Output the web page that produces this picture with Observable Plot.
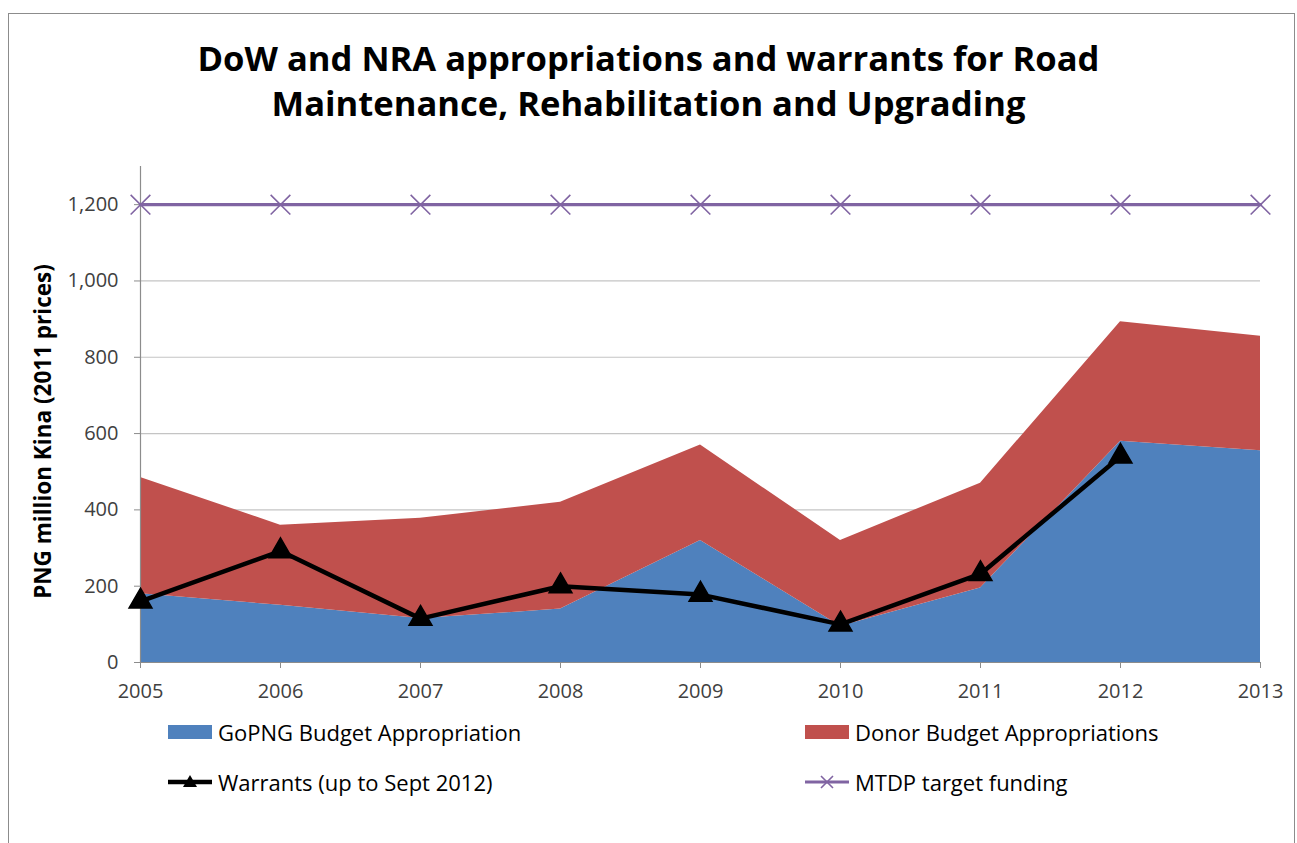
<!DOCTYPE html>
<html>
<head>
<meta charset="utf-8">
<script src="https://cdn.jsdelivr.net/npm/d3@7"></script>
<script src="https://cdn.jsdelivr.net/npm/@observablehq/plot@0.6"></script>
<style>
  body { margin: 0; background: #fff; font-family: "Open Sans", sans-serif; }
  #frame { position: relative; width: 1297px; height: 843px; overflow: hidden; background: #fff; }
  #border { position: absolute; left: 8px; top: 13px; width: 1287px; height: 860px; border: 1.5px solid #8c8c8c; box-sizing: border-box; pointer-events: none; }
  #title { height: 140px; box-sizing: border-box; padding-top: 35px; text-align: center; font-weight: 700; font-size: 34.6px; line-height: 45px; color: #000; }
  #chart svg { display: block; overflow: visible; }
  #legend { position: relative; height: 133px; }
  .item { position: absolute; display: flex; align-items: center; height: 30px; font-size: 22px; color: #000; white-space: nowrap; }
  .sw { width: 44px; height: 14px; margin-right: 6px; }
  .ln { width: 44px; height: 20px; margin-right: 6px; }
</style>
</head>
<body>
<div id="frame">
  <div id="title">DoW and NRA appropriations and warrants for Road<br>Maintenance, Rehabilitation and Upgrading</div>
  <div id="chart"></div>
  <div id="legend"></div>
  <div id="border"></div>
</div>
<script>
// ---- data ----
const years = [2005, 2006, 2007, 2008, 2009, 2010, 2011, 2012, 2013];
const gopng = [180, 150, 115, 140, 320, 95, 195, 580, 555];
const donor = [305, 210, 263, 280, 250, 225, 275, 313, 300];
const warrantYears = [2005, 2006, 2007, 2008, 2009, 2010, 2011, 2012];
const warrants = [160, 292, 115, 200, 178, 100, 232, 540];
const mtdp = [1200, 1200, 1200, 1200, 1200, 1200, 1200, 1200, 1200];
const yTicks = [0, 200, 400, 600, 800, 1000, 1200];
const seriesNames = ["GoPNG Budget Appropriation", "Donor Budget Appropriations"];
const warrantsName = "Warrants (up to Sept 2012)";
const mtdpName = "MTDP target funding";
const yLabel = "PNG million Kina (2011 prices)";

const colors = { blue: "#4F81BD", red: "#C0504D", purple: "#8064A2", black: "#000000" };

// ---- tables built from the arrays ----
const areaRows = [];
years.forEach((yr, i) => {
  areaRows.push({ year: yr, series: seriesNames[0], value: gopng[i] });
  areaRows.push({ year: yr, series: seriesNames[1], value: donor[i] });
});
const warrantRows = warrantYears.map((yr, i) => ({ year: yr, value: warrants[i] }));
const mtdpRows = years.map((yr, i) => ({ year: yr, value: mtdp[i] }));

const chart = Plot.plot({
  width: 1297,
  height: 570,
  marginTop: 26,
  marginBottom: 48,
  marginLeft: 140,
  marginRight: 37,
  style: { fontFamily: "Open Sans, sans-serif", background: "transparent", overflow: "visible" },
  x: { domain: [2005, 2013] },
  y: { domain: [0, 1300] },
  color: { domain: seriesNames, range: [colors.blue, colors.red] },
  marks: [
    Plot.gridY(yTicks.filter(d => d > 0), { stroke: "#c4c4c4", strokeOpacity: 1, strokeWidth: 1.2 }),
    Plot.areaY(areaRows, { x: "year", y: "value", fill: "series", order: seriesNames }),
    Plot.ruleY([0], { stroke: "#8c8c8c", strokeWidth: 1.2 }),
    Plot.ruleX([2005], { stroke: "#8c8c8c", strokeWidth: 1.2 }),
    Plot.axisX({ ticks: years, tickFormat: d => String(d), tickSize: 6, tickPadding: 15, stroke: "#8c8c8c", fill: "#404040", fontSize: 20, label: null }),
    Plot.axisY({ ticks: yTicks, tickFormat: d3.format(","), tickSize: 6, tickPadding: 16, stroke: "#8c8c8c", fill: "#404040", fontSize: 20, label: null }),
    Plot.text([yLabel], { text: d => d, frameAnchor: "left", rotate: -90, dx: -97, dy: 17,
                          fontSize: 22.5, fontWeight: "bold", fill: "#000", textAnchor: "middle", lineAnchor: "middle" }),
    Plot.line(mtdpRows, { x: "year", y: "value", stroke: colors.purple, strokeWidth: 3.2 }),
    Plot.dot(mtdpRows, { x: "year", y: "value", symbol: "times", r: 9, stroke: colors.purple, strokeWidth: 1.6, fill: "none" }),
    Plot.line(warrantRows, { x: "year", y: "value", stroke: colors.black, strokeWidth: 4.5 }),
    Plot.dot(warrantRows, { x: "year", y: "value", symbol: "triangle", r: 8.5, fill: colors.black, stroke: colors.black })
  ]
});
document.getElementById("chart").appendChild(chart);

// ---- legend ----
const legend = document.getElementById("legend");
function addItem(left, top, swatchHtml, text) {
  const d = document.createElement("div");
  d.className = "item";
  d.style.left = left + "px";
  d.style.top = top + "px";
  d.innerHTML = swatchHtml + "<span>" + text + "</span>";
  legend.appendChild(d);
}
const rect = c => `<div class="sw" style="background:${c}"></div>`;
const triSw = `<svg class="ln" viewBox="0 0 44 20"><line x1="0" y1="10" x2="44" y2="10" stroke="#000" stroke-width="4.5"/><path d="M22,3 L29,15 L15,15 Z" fill="#000"/></svg>`;
const xSw = `<svg class="ln" viewBox="0 0 44 20"><line x1="0" y1="10" x2="44" y2="10" stroke="${colors.purple}" stroke-width="3"/><path d="M16,4 L28,16 M28,4 L16,16" stroke="${colors.purple}" stroke-width="1.6"/></svg>`;
addItem(168, 7, rect(colors.blue), seriesNames[0]);
addItem(805, 7, rect(colors.red), seriesNames[1]);
addItem(168, 57, triSw, warrantsName);
addItem(805, 57, xSw, mtdpName);
</script>
</body>
</html>
